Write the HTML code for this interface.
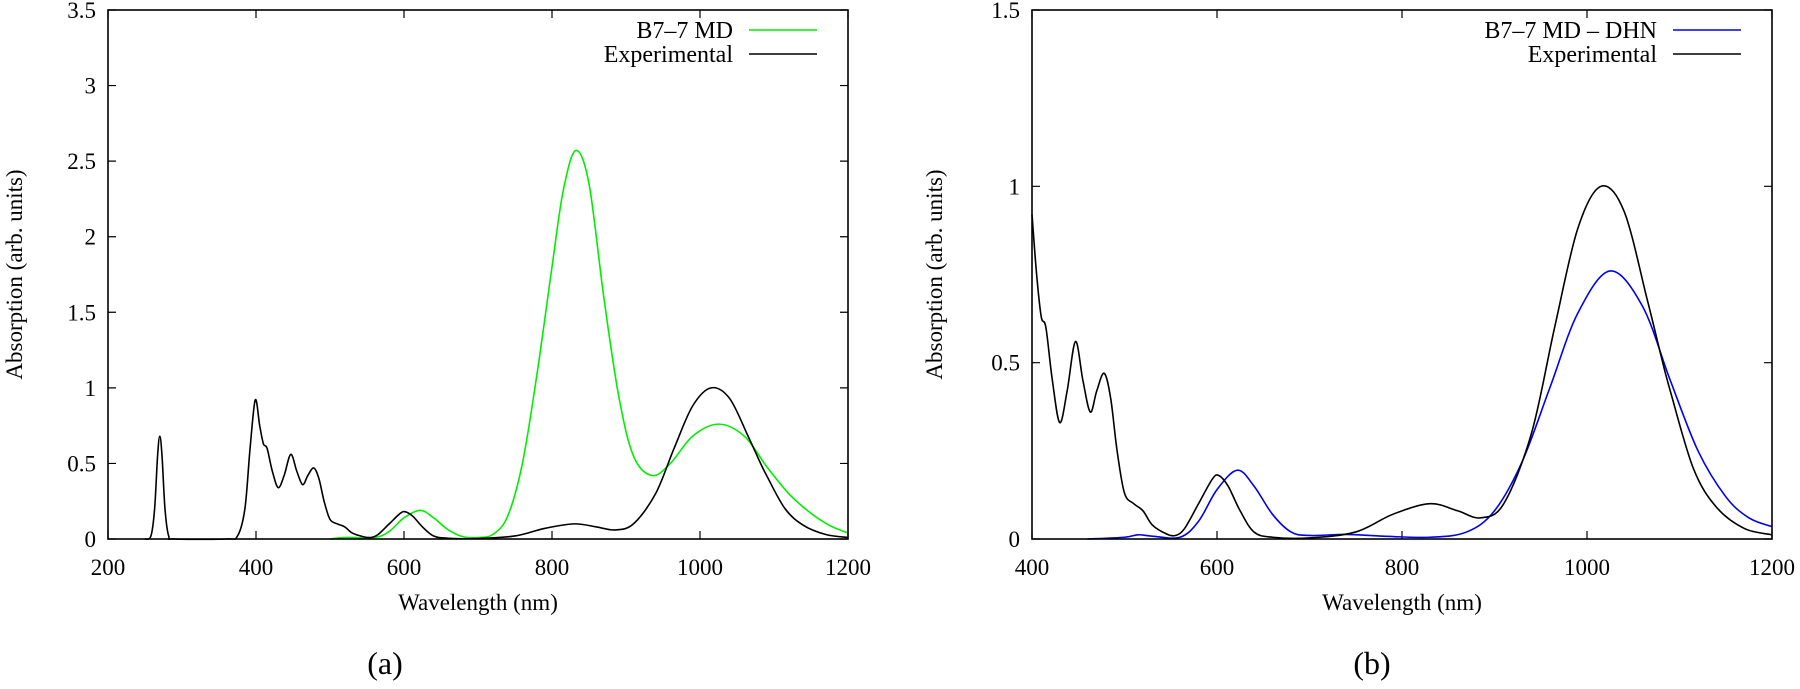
<!DOCTYPE html>
<html><head><meta charset="utf-8">
<style>
html,body{margin:0;padding:0;background:#fff;}
svg{display:block;}
svg text{font-family:"Liberation Serif","DejaVu Serif",serif;}
</style></head>
<body>
<svg id="fig" width="1800" height="689" viewBox="0 0 1800 689" xmlns="http://www.w3.org/2000/svg" font-family="Liberation Serif, DejaVu Serif, serif"></svg>
<script>
// ---- Data: panel (a)
const aExpX = [250,258,263,267,270,273,277,282,290,360,375,385,392,399,405,410,415,422,430,438,447,455,463,470,478,485,492,500,510,520,530,545,555,565,580,595,602,612,625,640,660,700,750,790,830,860,885,910,940,965,990,1015,1040,1065,1080,1090,1115,1140,1170,1200];
const aExpY = [0,0.02,0.2,0.55,0.68,0.55,0.2,0.02,0,0,0.02,0.2,0.6,0.92,0.75,0.63,0.6,0.45,0.34,0.42,0.56,0.45,0.36,0.42,0.47,0.4,0.25,0.13,0.1,0.08,0.04,0.015,0.01,0.03,0.1,0.17,0.18,0.15,0.08,0.02,0.005,0.003,0.02,0.07,0.1,0.08,0.06,0.1,0.3,0.6,0.88,1.0,0.93,0.68,0.52,0.42,0.2,0.09,0.03,0.01];
const aMdX = [500,520,560,580,600,622,640,660,680,700,720,740,760,780,800,815,832,850,870,890,910,935,960,990,1025,1060,1090,1120,1150,1175,1200];
const aMdY = [0,0.01,0.01,0.05,0.14,0.19,0.14,0.06,0.015,0.01,0.03,0.15,0.5,1.1,1.8,2.3,2.57,2.35,1.6,0.95,0.55,0.42,0.5,0.68,0.76,0.68,0.48,0.3,0.17,0.09,0.04];
// ---- Data: panel (b)
const bExpX = [400,405,410,415,422,430,438,447,455,463,470,478,485,492,500,510,520,530,545,555,565,580,595,602,612,625,640,660,700,750,790,830,860,885,910,940,965,990,1015,1040,1065,1080,1090,1115,1140,1170,1200];
const bExpY = [0.92,0.75,0.63,0.6,0.45,0.33,0.42,0.56,0.45,0.36,0.42,0.47,0.4,0.25,0.13,0.1,0.08,0.04,0.015,0.01,0.03,0.1,0.17,0.18,0.15,0.08,0.02,0.005,0.003,0.02,0.07,0.1,0.08,0.06,0.1,0.3,0.6,0.88,1.0,0.93,0.68,0.52,0.42,0.2,0.09,0.03,0.012];
const bMdX = [460,500,515,530,560,580,600,622,640,660,680,700,740,780,830,870,900,930,960,990,1025,1060,1090,1120,1150,1175,1200];
const bMdY = [0,0.005,0.012,0.008,0.005,0.05,0.14,0.195,0.15,0.07,0.02,0.01,0.013,0.008,0.005,0.02,0.08,0.22,0.43,0.64,0.76,0.66,0.45,0.25,0.12,0.06,0.035];
const aXTicks = [200,400,600,800,1000,1200];
const aYTicks = [0,0.5,1,1.5,2,2.5,3,3.5];
const aYLabels = ["0","0.5","1","1.5","2","2.5","3","3.5"];
const bXTicks = [400,600,800,1000,1200];
const bYTicks = [0,0.5,1,1.5];
const bYLabels = ["0","0.5","1","1.5"];

const NS = "http://www.w3.org/2000/svg";
const FF = '"Liberation Serif", "DejaVu Serif", serif';
const svg = document.getElementById('fig');
function mk(tag, attrs, parent){const e=document.createElementNS(NS,tag);for(const k in attrs)e.setAttribute(k,attrs[k]);if(tag==='text'){e.setAttribute('font-family',FF);e.style.fontFamily=FF;}(parent||svg).appendChild(e);return e;}

function panel(cfg){
  const g = mk('g',{});
  
  
  const L=cfg.left,R=cfg.right,T=10,B=539;
  const sx=v=>L+(v-cfg.xmin)/(cfg.xmax-cfg.xmin)*(R-L);
  const sy=v=>B-(v-cfg.ymin)/(cfg.ymax-cfg.ymin)*(B-T);
  cfg.xt.forEach(v=>{
    const x=sx(v);
    const t1=mk('path',{d:`M${x},${B}v-8M${x},${T}v8`,stroke:'#000','stroke-width':1.2,fill:'none'},g);
    
    
    const tx=mk('text',{x:x,y:575,'font-size':23,'text-anchor':'middle'},g);
    tx.textContent=v;
    
    
  });
  cfg.yt.forEach((v,i)=>{
    const y=sy(v);
    const t1=mk('path',{d:`M${L},${y}h8M${R},${y}h-8`,stroke:'#000','stroke-width':1.2,fill:'none'},g);
    
    
    const tx=mk('text',{x:L-12,y:y+8,'font-size':23,'text-anchor':'end'},g);
    tx.textContent=cfg.yl[i];
    
    
  });
  function curve(xs,ys,color,nm){
    const p=xs.map((x,i)=>[sx(x),sy(ys[i])]);
    let d=`M${p[0][0]},${p[0][1]}`;
    for(let i=0;i<p.length-1;i++){
      const p0=p[i-1]||p[i],p1=p[i],p2=p[i+1],p3=p[i+2]||p[i+1];
      const c1=[p1[0]+(p2[0]-p0[0])/6,p1[1]+(p2[1]-p0[1])/6];
      const c2=[p2[0]-(p3[0]-p1[0])/6,p2[1]-(p3[1]-p1[1])/6];
      d+=`C${c1[0]},${c1[1]} ${c2[0]},${c2[1]} ${p2[0]},${p2[1]}`;
    }
    const e=mk('path',{d:d,stroke:color,'stroke-width':1.6,fill:'none'},g);
    
    
  }
  curve(cfg.mdX,cfg.mdY,cfg.color,'md-series');
  curve(cfg.expX,cfg.expY,'#000','experimental-series');
  const fr=mk('rect',{x:L,y:T,width:R-L,height:B-T,fill:'none',stroke:'#000','stroke-width':1.6},g);
  
  
  const lg=mk('g',{},g);
  
  
  [[cfg.mdName,cfg.color,30],['Experimental','#000',54]].forEach(r=>{
    const t=mk('text',{x:cfg.legText,y:r[2]+8,'font-size':24,'text-anchor':'end'},lg);
    t.textContent=r[0];
    
    
    const ln=mk('line',{x1:cfg.legText+16,x2:cfg.legText+84,y1:r[2],y2:r[2],stroke:r[1],'stroke-width':1.6},lg);
    
    
  });
  const xt=mk('text',{x:(L+R)/2,y:610,'font-size':23,'text-anchor':'middle'},g);
  xt.textContent='Wavelength (nm)';
  
  
  const yx=cfg.ytitleX, yy=(T+B)/2;
  const yt=mk('text',{x:yx,y:yy,'font-size':23,'text-anchor':'middle',transform:`rotate(-90 ${yx} ${yy})`},g);
  yt.textContent='Absorption (arb. units)';
  
  
  const cap=mk('text',{x:cfg.capX,y:674,'font-size':32,'text-anchor':'middle'},g);
  cap.textContent=cfg.cap;
  
  
}
panel({name:'panel-a',left:108,right:848,xmin:200,xmax:1200,ymin:0,ymax:3.5,xt:aXTicks,yt:aYTicks,yl:aYLabels,
  mdX:aMdX,mdY:aMdY,expX:aExpX,expY:aExpY,color:'#00ee00',mdName:'B7\u20137 MD',legText:733,ytitleX:22,capX:385,cap:'(a)'});
panel({name:'panel-b',left:1032,right:1772,xmin:400,xmax:1200,ymin:0,ymax:1.5,xt:bXTicks,yt:bYTicks,yl:bYLabels,
  mdX:bMdX,mdY:bMdY,expX:bExpX,expY:bExpY,color:'#0000ee',mdName:'B7\u20137 MD \u2013 DHN',legText:1657,ytitleX:942,capX:1372,cap:'(b)'});
</script>
</body></html>
